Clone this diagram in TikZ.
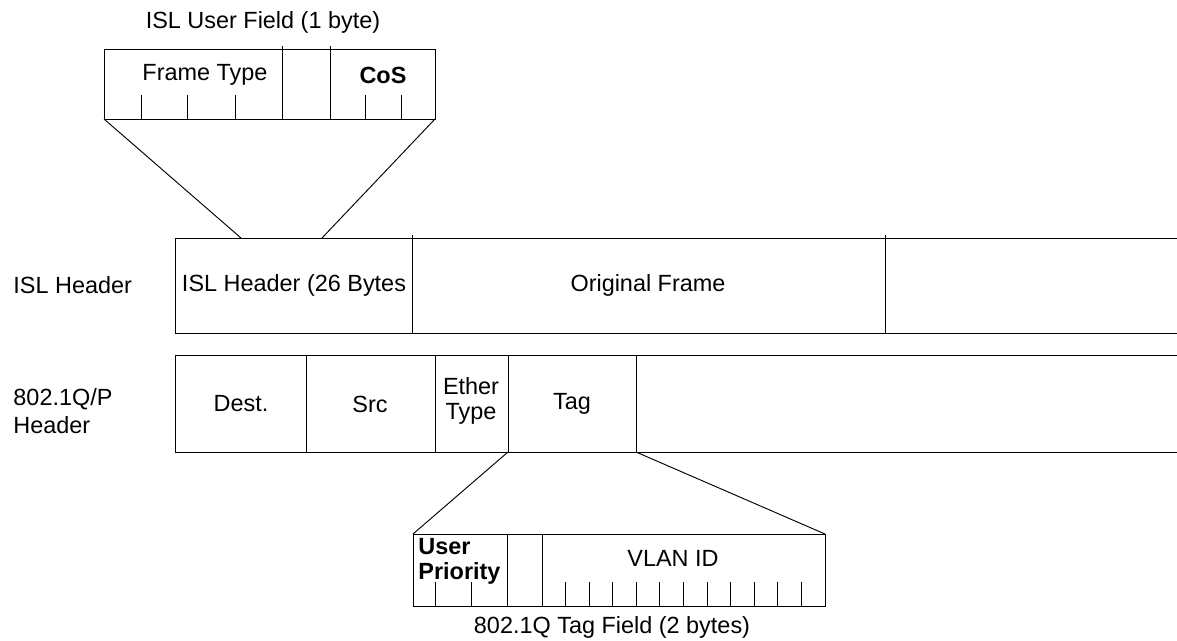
\documentclass[tikz,border=0pt]{standalone}
\usepackage{fontspec}
\setmainfont{Liberation Sans}
\begin{document}
\begin{tikzpicture}[x=0.03cm,y=-0.03cm,line width=0.8pt,
  lbl/.style={inner sep=0pt,font=\fontsize{20}{24}\selectfont},
  blbl/.style={lbl,font=\fontsize{20}{21}\selectfont\bfseries}]
  \useasboundingbox (0,0) rectangle (1177,640);
  % ISL user field (1 byte)
  \node[lbl] (islttl) at (263,22) {ISL User Field (1 byte)};
  \draw (104,49) rectangle (435,119);
  \draw (282,46) -- (282,119) (330,46) -- (330,119);
  \foreach \x in {141,187,235,365,401}
    \draw (\x,95) -- (\x,119);
  \node[lbl] (ftype) at (205,75) {Frame Type};
  \node[blbl] (cos) at (383,75) {CoS};
  \coordinate (ufl) at (104,119);
  \coordinate (ufr) at (435,119);
  % ISL header row
  \node[lbl,anchor=west] (isllbl) at (13,285) {ISL Header};
  \draw (1177,238) -- (175,238) -- (175,333) -- (1177,333);
  \draw (412,235) -- (412,333) (885,235) -- (885,333);
  \coordinate (isla) at (241,238);
  \coordinate (islb) at (322,238);
  \node[lbl] (islhdr) at (294,285) {ISL Header (26 Bytes};
  \node[lbl] (orig) at (648,285) {Original Frame};
  \draw (ufl) -- (isla) (ufr) -- (islb);
  % 802.1Q/P row
  \node[lbl,anchor=west,align=left] (dotqlbl) at (13,411) {802.1Q/P\\Header};
  \draw (1177,355) -- (175,355) -- (175,452) -- (1177,452);
  \foreach \x in {306,435,508,636}
    \draw (\x,355) -- (\x,452);
  \node[lbl] (dest) at (241,404) {Dest.};
  \node[lbl] (src) at (370,404) {Src};
  \node[lbl,align=center,font=\fontsize{20}{22}\selectfont] (ether) at (471,401) {Ether\\Type};
  \node[lbl] (tag) at (572,404) {Tag};
  \coordinate (taga) at (508,452);
  \coordinate (tagb) at (636,452);
  % 802.1Q tag field (2 bytes)
  \draw (413,534) rectangle (825,606);
  \draw (507,534) -- (507,606) (542,534) -- (542,606);
  \foreach \x in {435,471}
    \draw (\x,582) -- (\x,606);
  \foreach \k in {1,...,11}
    \draw ({542+23.58*\k},582) -- ({542+23.58*\k},606);
  \coordinate (tfl) at (413,534);
  \coordinate (tfr) at (825,534);
  \draw (taga) -- (tfl) (tagb) -- (tfr);
  \node[blbl,anchor=north west,align=left] (uprio) at (418,538) {User\\Priority};
  \node[lbl] (vlan) at (673,558) {VLAN ID};
  \node[lbl] (tagttl) at (612,627) {802.1Q Tag Field (2 bytes)};
\end{tikzpicture}
\end{document}
